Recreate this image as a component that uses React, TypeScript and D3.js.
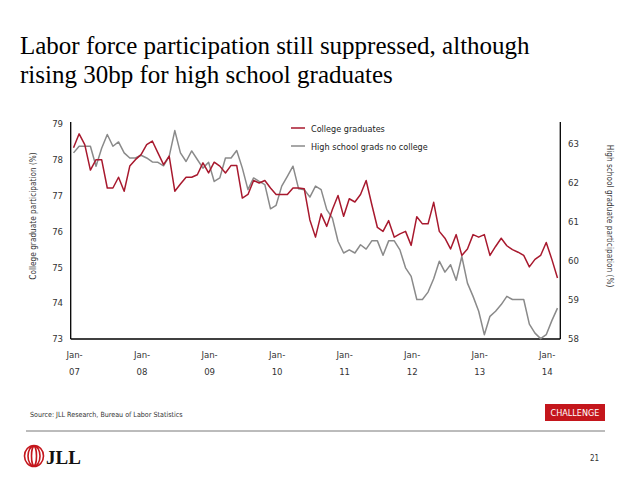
import React from "react";
import * as d3 from "d3";

// Monthly series, Jan-07 through Mar-14
const collegeGrads = [
  78.33, 78.72, 78.42, 77.71, 78.0, 78.0, 77.21, 77.21, 77.51, 77.12, 77.82, 78.0,
  78.14, 78.42, 78.52, 78.19, 77.86, 78.1, 77.12, 77.32, 77.51, 77.51, 77.58, 77.91,
  77.63, 77.93, 77.82, 77.63, 77.84, 77.84, 76.93, 77.03, 77.42, 77.35, 77.42, 77.21,
  77.03, 77.03, 77.03, 77.21, 77.21, 77.19, 76.32, 75.84, 76.49, 76.14, 76.61, 77.0,
  76.42, 76.91, 76.82, 77.03, 77.42, 76.75, 76.11, 76.0, 76.3, 75.84, 75.93, 76.0,
  75.61, 76.41, 76.21, 76.21, 76.81, 76.0, 75.81, 75.51, 75.91, 75.33, 75.51, 75.91,
  75.84, 75.91, 75.33, 75.58, 75.81, 75.6, 75.49, 75.42, 75.33, 75.01, 75.22, 75.33,
  75.69, 75.22, 74.7,
];

const highSchoolGrads = [
  62.76, 62.93, 62.93, 62.93, 62.42, 62.88, 63.23, 62.93, 63.04, 62.76, 62.63, 62.63,
  62.7, 62.63, 62.53, 62.52, 62.43, 62.67, 63.33, 62.76, 62.54, 62.81, 62.59, 62.37,
  62.52, 62.03, 62.12, 62.63, 62.63, 62.82, 62.37, 61.82, 62.12, 62.03, 61.95, 61.33,
  61.42, 61.91, 62.16, 62.42, 61.84, 61.82, 61.63, 61.91, 61.82, 61.31, 61.09, 60.5,
  60.2, 60.28, 60.2, 60.41, 60.3, 60.51, 60.51, 60.14, 60.51, 60.51, 60.28, 59.82,
  59.6, 59.01, 59.01, 59.2, 59.54, 59.99, 59.71, 59.9, 59.5, 60.11, 59.43, 59.09,
  58.71, 58.11, 58.58, 58.71, 58.88, 59.09, 59.01, 59.01, 59.01, 58.38, 58.15, 58.01,
  58.11, 58.47, 58.79,
];

const yearLabels = ["07", "08", "09", "10", "11", "12", "13", "14"];
const leftTicks = [73, 74, 75, 76, 77, 78, 79];
const rightTicks = [58, 59, 60, 61, 62, 63];

const seriesNames = ["College graduates", "High school grads no college"];

const RED = "#a8192e";
const GREY = "#8a8a8a";
const NARROW = "'DejaVu Sans Condensed', 'Liberation Sans Narrow', 'Arial Narrow', sans-serif";

const plot = { left: 70.7, right: 560.3, top: 122, bottom: 339 };

const months = collegeGrads.map((_, i) => i);

const x = d3
  .scalePoint<number>()
  .domain(months)
  .range([plot.left, plot.right])
  .padding(0.5);

const yLeft = d3.scaleLinear().domain([73, 79.05]).range([plot.bottom, plot.top]);
const yRight = d3.scaleLinear().domain([58, 63.55]).range([plot.bottom, plot.top]);

const collegeLine = d3
  .line<number>()
  .x((_, i) => x(i)!)
  .y((d) => yLeft(d));

const hsLine = d3
  .line<number>()
  .x((_, i) => x(i)!)
  .y((d) => yRight(d));

const App: React.FC = () => {
  return (
    <svg width={638} height={479} style={{ position: "absolute", left: 0, top: 0, background: "#fff" }}>
      <rect width={638} height={479} fill="#fff" />

      {/* title */}
      <text fontFamily="'Liberation Serif', 'Times New Roman', serif" fontSize={25} fill="#000">
        <tspan x={20} y={54}>Labor force participation still suppressed, although</tspan>
        <tspan x={20} y={83}>rising 30bp for high school graduates</tspan>
      </text>

      {/* axes frame */}
      <g stroke="#000" strokeWidth={1.3} fill="none">
        <line x1={plot.left} x2={plot.left} y1={plot.top} y2={plot.bottom} />
        <line x1={plot.left} x2={plot.right} y1={plot.bottom} y2={plot.bottom} />
        <line x1={plot.right} x2={plot.right} y1={plot.top} y2={plot.bottom} />
      </g>

      {/* left ticks */}
      <g fontFamily={NARROW} fontSize={9.5} fill="#333" textAnchor="end">
        {leftTicks.map((t) => (
          <text key={t} x={63} y={yLeft(t)} dy="0.35em">
            {t}
          </text>
        ))}
      </g>

      {/* right ticks */}
      <g fontFamily={NARROW} fontSize={9.5} fill="#333" textAnchor="start">
        {rightTicks.map((t) => (
          <text key={t} x={568} y={yRight(t)} dy="0.35em">
            {t}
          </text>
        ))}
      </g>

      {/* x labels at each January */}
      <g fontFamily={NARROW} fontSize={9.5} fill="#333" textAnchor="middle">
        {yearLabels.map((yr, k) => {
          const px = x(k * 12)! + 1;
          return (
            <g key={yr}>
              <text x={px} y={358}>Jan-</text>
              <text x={px} y={375}>{yr}</text>
            </g>
          );
        })}
      </g>

      {/* axis titles */}
      <text
        transform="translate(36,216) rotate(-90)"
        textAnchor="middle"
        fontFamily={NARROW}
        fontSize={8.2}
        fill="#333"
      >
        College graduate participation (%)
      </text>
      <text
        transform="translate(607,216) rotate(90)"
        textAnchor="middle"
        fontFamily={NARROW}
        fontSize={8.2}
        fill="#333"
      >
        High school graduate participation (%)
      </text>

      {/* series */}
      <path d={hsLine(highSchoolGrads) ?? ""} fill="none" stroke={GREY} strokeWidth={1.5} strokeLinejoin="round" />
      <path d={collegeLine(collegeGrads) ?? ""} fill="none" stroke={RED} strokeWidth={1.5} strokeLinejoin="round" />

      {/* legend */}
      <g fontFamily={NARROW} fontSize={9} fill="#222">
        <line x1={291} x2={305} y1={128} y2={128} stroke={RED} strokeWidth={1.5} />
        <text x={311} y={131.5}>{seriesNames[0]}</text>
        <line x1={291} x2={305} y1={146} y2={146} stroke={GREY} strokeWidth={1.5} />
        <text x={311} y={149.5}>{seriesNames[1]}</text>
      </g>

      {/* footer */}
      <text x={30} y={417} fontFamily={NARROW} fontSize={7.1} fill="#333">
        Source: JLL Research, Bureau of Labor Statistics
      </text>
      <rect x={545} y={404} width={60} height={17} fill="#c4161c" />
      <text x={575} y={416} textAnchor="middle" fontFamily={NARROW} fontSize={9} fill="#fff">
        CHALLENGE
      </text>
      <line x1={26} x2={605} y1={431} y2={431} stroke="#555" strokeWidth={0.8} />

      {/* logo */}
      <g fill="none" stroke="#c4161c" strokeWidth={1.6}>
        <ellipse cx={34} cy={456} rx={2.5} ry={9.5} />
        <ellipse cx={34} cy={456} rx={6} ry={10} />
        <ellipse cx={34} cy={456} rx={9.5} ry={10.5} />
      </g>
      <text x={46} y={464} fontFamily="'Liberation Serif', serif" fontWeight="bold" fontSize={19} fill="#111">
        JLL
      </text>
      <text x={590} y={461} fontFamily={NARROW} fontSize={8} fill="#333">
        21
      </text>
    </svg>
  );
};

export default App;
